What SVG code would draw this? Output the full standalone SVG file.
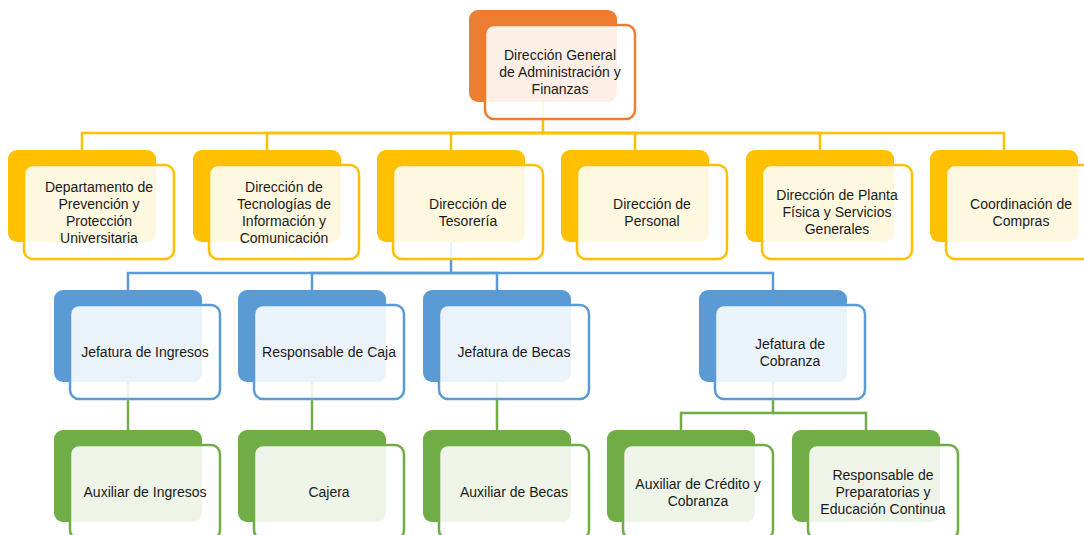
<svg xmlns="http://www.w3.org/2000/svg" width="1084" height="535" viewBox="0 0 1084 535">
<style>
.c{fill:none;stroke-width:2.5}
.cy{stroke:#FFC000}.cb{stroke:#5B9BD5}.cg{stroke:#70AD47}
.b{rx:9;ry:9}
.f{fill:#fff;fill-opacity:0.88;stroke-width:2.5;rx:9;ry:9}
.o .b{fill:#ED7D31}.o .f{stroke:#ED7D31}
.y .b{fill:#FFC000}.y .f{stroke:#FFC000}
.u .b{fill:#5B9BD5}.u .f{stroke:#5B9BD5}
.g .b{fill:#70AD47}.g .f{stroke:#70AD47}
text{font-family:"Liberation Sans",Arial,sans-serif;font-size:14px;fill:#1a1a1a;text-anchor:middle}
</style>
<rect width="1084" height="535" fill="#fff"/>
<g id="connectors">
<path class="c cy" d="M543,102V133H82V150"/>
<path class="c cy" d="M543,133H267V150"/>
<path class="c cy" d="M543,133H451V150"/>
<path class="c cy" d="M543,133H635V150"/>
<path class="c cy" d="M543,133H820V150"/>
<path class="c cy" d="M543,133H1004V150"/>
<path class="c cb" d="M451,242V273H128V290"/>
<path class="c cb" d="M451,273H312V290"/>
<path class="c cb" d="M451,273H497V290"/>
<path class="c cb" d="M451,273H773V290"/>
<path class="c cg" d="M128,382V430"/>
<path class="c cg" d="M312,382V430"/>
<path class="c cg" d="M497,382V430"/>
<path class="c cg" d="M773,382V413H681V430"/>
<path class="c cg" d="M773,413H866V430"/>
</g>
<g id="n0" class="o"><rect class="b" x="469" y="10" width="148" height="92"/><rect class="f" x="485" y="25" width="150" height="94"/><text x="560" y="60">Dirección General</text><text x="560" y="77">de Administración y</text><text x="560" y="94">Finanzas</text></g>
<g id="n1" class="y"><rect class="b" x="8" y="150" width="148" height="92"/><rect class="f" x="24" y="165" width="150" height="94"/><text x="99" y="191.5">Departamento de</text><text x="99" y="208.5">Prevención y</text><text x="99" y="225.5">Protección</text><text x="99" y="242.5">Universitaria</text></g>
<g id="n2" class="y"><rect class="b" x="193" y="150" width="148" height="92"/><rect class="f" x="209" y="165" width="150" height="94"/><text x="284" y="191.5">Dirección de</text><text x="284" y="208.5">Tecnologías de</text><text x="284" y="225.5">Información y</text><text x="284" y="242.5">Comunicación</text></g>
<g id="n3" class="y"><rect class="b" x="377" y="150" width="148" height="92"/><rect class="f" x="393" y="165" width="150" height="94"/><text x="468" y="208.5">Dirección de</text><text x="468" y="225.5">Tesorería</text></g>
<g id="n4" class="y"><rect class="b" x="561" y="150" width="148" height="92"/><rect class="f" x="577" y="165" width="150" height="94"/><text x="652" y="208.5">Dirección de</text><text x="652" y="225.5">Personal</text></g>
<g id="n5" class="y"><rect class="b" x="746" y="150" width="148" height="92"/><rect class="f" x="762" y="165" width="150" height="94"/><text x="837" y="200">Dirección de Planta</text><text x="837" y="217">Física y Servicios</text><text x="837" y="234">Generales</text></g>
<g id="n6" class="y"><rect class="b" x="930" y="150" width="148" height="92"/><rect class="f" x="946" y="165" width="150" height="94"/><text x="1021" y="208.5">Coordinación de</text><text x="1021" y="225.5">Compras</text></g>
<g id="n7" class="u"><rect class="b" x="54" y="290" width="148" height="92"/><rect class="f" x="70" y="305" width="150" height="94"/><text x="145" y="357">Jefatura de Ingresos</text></g>
<g id="n8" class="u"><rect class="b" x="238" y="290" width="148" height="92"/><rect class="f" x="254" y="305" width="150" height="94"/><text x="329" y="357">Responsable de Caja</text></g>
<g id="n9" class="u"><rect class="b" x="423" y="290" width="148" height="92"/><rect class="f" x="439" y="305" width="150" height="94"/><text x="514" y="357">Jefatura de Becas</text></g>
<g id="n10" class="u"><rect class="b" x="699" y="290" width="148" height="92"/><rect class="f" x="715" y="305" width="150" height="94"/><text x="790" y="348.5">Jefatura de</text><text x="790" y="365.5">Cobranza</text></g>
<g id="n11" class="g"><rect class="b" x="54" y="430" width="148" height="92"/><rect class="f" x="70" y="445" width="150" height="94"/><text x="145" y="497">Auxiliar de Ingresos</text></g>
<g id="n12" class="g"><rect class="b" x="238" y="430" width="148" height="92"/><rect class="f" x="254" y="445" width="150" height="94"/><text x="329" y="497">Cajera</text></g>
<g id="n13" class="g"><rect class="b" x="423" y="430" width="148" height="92"/><rect class="f" x="439" y="445" width="150" height="94"/><text x="514" y="497">Auxiliar de Becas</text></g>
<g id="n14" class="g"><rect class="b" x="607" y="430" width="148" height="92"/><rect class="f" x="623" y="445" width="150" height="94"/><text x="698" y="488.5">Auxiliar de Crédito y</text><text x="698" y="505.5">Cobranza</text></g>
<g id="n15" class="g"><rect class="b" x="792" y="430" width="148" height="92"/><rect class="f" x="808" y="445" width="150" height="94"/><text x="883" y="480">Responsable de</text><text x="883" y="497">Preparatorias y</text><text x="883" y="514">Educación Continua</text></g>
</svg>
